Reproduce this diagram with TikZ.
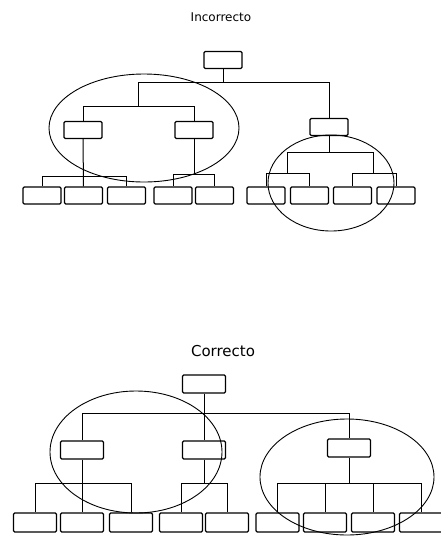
\documentclass[tikz,border=0pt]{standalone}
\usepackage{fontspec}
\setmainfont{DejaVu Sans}
\begin{document}
\begin{tikzpicture}[x=1pt,y=-1pt,
    box/.style={draw, line width=1.3pt, rounded corners=1.2pt, minimum width=38pt, minimum height=17pt, inner sep=0pt},
    bigbox/.style={box, minimum width=43pt, minimum height=18pt},
    link/.style={line width=1pt},
    ring/.style={line width=0.9pt}]
  \useasboundingbox (0,0) rectangle (441,542);

  % Incorrecto
  \node (tIn) at (221,17.5) {\fontsize{12}{14}\selectfont Incorrecto};
  \node[box] (r1) at (223,60) {};
  \node[box] (m1) at (83,130) {};
  \node[box] (m2) at (194,130) {};
  \node[box] (m3) at (329,127) {};
  \foreach \x [count=\i] in {42,83.5,126.5,173,214.5,266,309.5,352.5,396}
    \node[box] (l\i) at (\x,195.5) {};

  \coordinate (a1) at (138,82);
  \coordinate (a2) at (138,106);
  \coordinate (b1) at (83,176);
  \coordinate (b2) at (194,174);
  \coordinate (b3) at (329,152);
  \coordinate (c1) at (287,173);
  \coordinate (c2) at (373,173);
  \draw[link] (r1.south) -- (r1.south |- a1);
  \draw[link] (a1) -| (m3.north);
  \draw[link] (a1) -- (a2);
  \draw[link] (a2) -| (m1.north);
  \draw[link] (a2) -| (m2.north);
  \draw[link] (m1.south) -- (l2.north);
  \draw[link] (b1) -| (l1.north);
  \draw[link] (b1) -| (l3.north);
  \draw[link] (m2.south) -- (b2);
  \draw[link] (b2) -| (l4.north);
  \draw[link] (b2) -| (l5.north);
  \draw[link] (m3.south) -- (b3);
  \draw[link] (b3) -| (c1);
  \draw[link] (b3) -| (c2);
  \draw[link] (c1) -| (l6.north);
  \draw[link] (c1) -| (l7.north);
  \draw[link] (c2) -| (l8.north);
  \draw[link] (c2) -| (l9.north);

  \draw[ring] (144,128) ellipse [x radius=95, y radius=54];
  \draw[ring] (331,183) ellipse [x radius=63, y radius=48];

  % Correcto
  \node (tCo) at (223,351) {\fontsize{15}{17}\selectfont Correcto};
  \node[bigbox] (R) at (204,384) {};
  \node[bigbox] (M1) at (82,450) {};
  \node[bigbox] (M2) at (204,450) {};
  \node[bigbox] (M3) at (349,448) {};
  \foreach \x [count=\i] in {35,82,131,181,227,277.5,325,373,421}
    \node[bigbox, minimum height=19pt] (L\i) at (\x,522.5) {};

  \coordinate (A1) at (204,413);
  \coordinate (B1) at (82,483);
  \coordinate (B2) at (204,483);
  \coordinate (B3) at (349,483);
  \draw[link] (R.south) -- (M2.north);
  \draw[link] (A1) -| (M1.north);
  \draw[link] (A1) -| (M3.north);
  \draw[link] (M1.south) -- (L2.north);
  \draw[link] (B1) -| (L1.north);
  \draw[link] (B1) -| (L3.north);
  \draw[link] (M2.south) -- (B2);
  \draw[link] (B2) -| (L4.north);
  \draw[link] (B2) -| (L5.north);
  \draw[link] (M3.south) -- (B3);
  \foreach \i in {6,...,9}
    \draw[link] (B3) -| (L\i.north);

  \draw[ring] (136,452) ellipse [x radius=86, y radius=61];
  \draw[ring] (347,477) ellipse [x radius=87, y radius=58];
\end{tikzpicture}
\end{document}
